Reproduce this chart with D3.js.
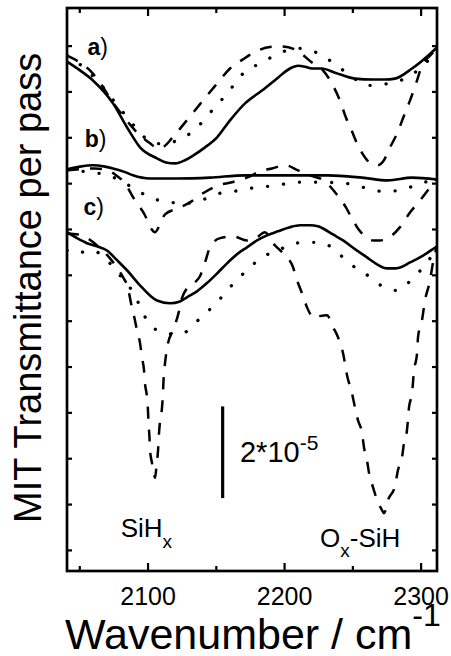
<!DOCTYPE html>
<html>
<head>
<meta charset="utf-8">
<script src="https://cdn.jsdelivr.net/npm/d3@7"></script>
<style>
  html, body { margin: 0; padding: 0; background: #fff; }
  svg { display: block; font-family: "Liberation Sans", Arial, Helvetica, sans-serif; }
</style>
</head>
<body>
<svg id="chart" width="451" height="656"></svg>
<script>
// x in cm^-1, y in units of 1e-5 (curves offset a / b / c)
const xTicksMajor = [2100, 2200, 2300];
const xTicksMinor = [2050, 2150, 2250];
const yTicks = [0, 1, 2, 3, 4, 5, 6, 7, 8, 9, 10, 11];

const aSolid = [[2041.0,10.65],[2050.5,10.46],[2060.0,10.24],[2074.7,9.74],[2084.9,9.22],[2094.5,8.78],[2106.9,8.54],[2113.5,8.45],[2120.1,8.43],[2127.4,8.50],[2133.3,8.60],[2142.1,8.78],[2150.9,9.00],[2160.4,9.37],[2171.4,9.74],[2183.8,10.02],[2195.5,10.30],[2204.3,10.50],[2210.2,10.56],[2215.3,10.54],[2220.4,10.50],[2227.7,10.50],[2237.3,10.41],[2251.9,10.28],[2264.4,10.26],[2273.9,10.26],[2281.2,10.28],[2293.7,10.50],[2305.4,10.78],[2312.0,10.96]];
const aDashed = [[2041.0,10.78],[2050.5,10.63],[2057.8,10.46],[2065.2,10.19],[2073.2,9.82],[2083.5,9.41],[2094.5,9.04],[2101.8,8.87],[2107.7,8.76],[2112.1,8.80],[2117.9,8.98],[2127.4,9.32],[2134.8,9.59],[2143.5,9.91],[2150.9,10.17],[2160.4,10.50],[2169.9,10.70],[2179.4,10.87],[2189.7,10.97],[2199.2,10.98],[2209.5,10.89],[2220.4,10.63],[2228.5,10.46],[2235.8,10.13],[2240.9,9.80],[2245.3,9.43],[2249.7,9.13],[2254.1,8.82],[2259.3,8.56],[2264.4,8.41],[2268.8,8.39],[2272.5,8.47],[2277.6,8.78],[2282.7,9.08],[2287.8,9.47],[2292.2,9.80],[2296.6,10.17],[2301.0,10.56],[2306.9,10.78],[2312.0,10.93]];
const aDotted = [[2041.0,10.78],[2054.2,10.50],[2065.2,10.17],[2076.2,9.76],[2086.4,9.39],[2098.1,8.99],[2109.1,8.86],[2123.8,8.95],[2137.0,9.24],[2148.0,9.61],[2159.0,9.98],[2169.9,10.39],[2183.8,10.63],[2196.3,10.83],[2209.5,10.94],[2223.4,10.85],[2235.8,10.63],[2248.3,10.35],[2261.5,10.13],[2275.4,10.17],[2288.6,10.28],[2299.5,10.50],[2306.9,10.72],[2312.0,10.89]];

const bSolid = [[2041.0,8.30],[2050.5,8.36],[2060.0,8.39],[2068.8,8.36],[2074.7,8.32],[2083.5,8.24],[2089.3,8.17],[2101.8,8.10],[2120.8,8.10],[2145.7,8.12],[2171.4,8.17],[2195.5,8.17],[2232.2,8.17],[2257.1,8.12],[2276.1,8.06],[2293.7,8.12],[2312.0,8.08]];
const bDashed = [[2041.0,8.28],[2061.5,8.32],[2071.0,8.28],[2076.2,8.19],[2083.5,7.99],[2090.8,7.62],[2098.1,7.30],[2102.5,7.01],[2105.5,6.93],[2109.1,7.10],[2112.8,7.32],[2122.3,7.45],[2131.1,7.58],[2140.6,7.78],[2151.6,7.95],[2161.9,8.02],[2175.0,8.15],[2182.4,8.26],[2191.2,8.32],[2200.7,8.39],[2210.2,8.28],[2219.0,8.17],[2230.0,8.04],[2237.3,7.80],[2245.3,7.47],[2249.7,7.23],[2254.1,7.01],[2259.3,6.84],[2265.1,6.75],[2270.2,6.75],[2276.1,6.80],[2284.9,7.04],[2292.2,7.36],[2299.5,7.62],[2306.9,7.91],[2312.0,8.10]];
const bDotted = [[2041.0,8.28],[2057.8,8.24],[2071.0,8.17],[2079.8,8.06],[2088.6,7.91],[2101.8,7.69],[2116.4,7.58],[2128.9,7.56],[2140.6,7.64],[2153.1,7.78],[2167.7,7.84],[2180.2,7.91],[2194.8,7.95],[2208.0,8.02],[2226.3,8.02],[2246.1,7.99],[2257.8,7.91],[2271.7,7.82],[2284.9,7.84],[2297.4,7.97],[2305.4,8.04],[2312.0,8.10]];

const cSolid = [[2041.0,6.93],[2048.3,6.80],[2055.6,6.69],[2063.0,6.62],[2070.3,6.53],[2077.6,6.32],[2084.9,6.10],[2094.5,5.77],[2101.8,5.55],[2106.9,5.44],[2116.4,5.38],[2123.8,5.42],[2128.9,5.51],[2136.2,5.64],[2143.5,5.82],[2150.9,6.03],[2158.2,6.25],[2165.5,6.45],[2172.8,6.60],[2180.2,6.75],[2187.5,6.86],[2195.5,6.95],[2204.3,7.04],[2211.7,7.08],[2219.0,7.08],[2224.8,7.06],[2228.5,7.01],[2235.8,6.88],[2243.2,6.75],[2251.9,6.56],[2260.7,6.38],[2268.1,6.23],[2275.4,6.14],[2281.2,6.14],[2284.9,6.16],[2292.2,6.27],[2299.5,6.38],[2305.4,6.49],[2312.0,6.62]];
const cDashed = [[2041.0,6.90],[2049.1,6.88],[2054.9,6.82],[2059.3,6.73],[2065.2,6.58],[2072.5,6.36],[2077.6,6.16],[2082.0,5.95],[2085.7,5.71],[2087.9,5.38],[2090.1,5.10],[2092.3,4.79],[2094.5,4.51],[2095.9,4.20],[2097.4,3.92],[2098.1,3.64],[2099.6,3.33],[2100.3,3.05],[2100.7,2.76],[2101.4,2.46],[2101.8,2.18],[2103.3,1.89],[2104.7,1.65],[2105.5,1.57],[2106.6,1.85],[2107.7,2.18],[2108.4,2.55],[2109.1,2.79],[2110.6,3.11],[2111.3,3.42],[2111.7,3.70],[2112.4,3.96],[2113.5,4.25],[2115.0,4.51],[2118.6,4.79],[2122.3,5.12],[2125.2,5.49],[2128.9,5.71],[2134.8,5.84],[2138.4,5.97],[2142.1,6.27],[2145.7,6.60],[2153.1,6.80],[2162.6,6.84],[2172.8,6.75],[2179.4,6.80],[2186.0,6.93],[2191.9,6.69],[2199.2,6.47],[2206.5,6.17],[2209.5,5.88],[2213.1,5.60],[2216.8,5.29],[2219.7,5.12],[2222.6,5.05],[2226.3,5.10],[2231.4,5.12],[2235.8,4.86],[2239.5,4.64],[2243.2,4.29],[2246.1,3.81],[2249.7,3.42],[2251.9,3.11],[2254.1,2.83],[2257.1,2.55],[2258.5,2.24],[2260.7,1.96],[2262.2,1.68],[2265.1,1.37],[2268.1,1.09],[2271.7,0.87],[2273.2,0.80],[2276.1,1.09],[2281.2,1.39],[2283.4,1.74],[2286.4,2.02],[2287.8,2.33],[2290.0,2.61],[2291.5,3.11],[2293.7,3.42],[2295.2,3.92],[2297.4,4.29],[2298.1,4.64],[2301.0,5.01],[2303.2,5.44],[2306.9,5.88],[2309.1,6.27],[2312.0,6.62]];
const cDotted = [[2041.0,6.53],[2046.9,6.47],[2059.3,6.53],[2072.5,6.25],[2081.3,5.93],[2090.8,5.55],[2096.7,5.16],[2106.9,4.79],[2116.4,4.71],[2127.4,4.75],[2138.4,5.05],[2150.9,5.40],[2160.4,5.73],[2172.8,6.10],[2183.8,6.38],[2195.5,6.53],[2208.0,6.69],[2222.6,6.71],[2235.1,6.60],[2246.8,6.27],[2259.3,6.03],[2270.9,5.77],[2282.7,5.66],[2294.4,5.93],[2304.7,6.27],[2312.0,6.58]];

// scale bar: 2*10^-5 tall
const scaleBarX = 2155;
const scaleBar = [1.13, 3.13];

const plot = { left: 67, right: 437, top: 8, bottom: 571 };

const svg = d3.select("#chart");

const x = d3.scaleLinear().domain([2041, 2312]).range([plot.left, plot.right]);
const y = d3.scaleLinear().domain([-0.46, 11.82]).range([plot.bottom, plot.top]);

svg.append("defs").append("clipPath").attr("id", "clip")
    .append("rect")
    .attr("x", plot.left).attr("y", plot.top)
    .attr("width", plot.right - plot.left).attr("height", plot.bottom - plot.top);

const line = d3.line()
    .x(d => x(d[0]))
    .y(d => y(d[1]))
    .curve(d3.curveMonotoneX);

const styles = {
    solid: { width: 2.6, dash: null, cap: "round" },
    dashed: { width: 2.5, dash: "12 11", cap: "butt" },
    dotted: { width: 3.3, dash: "0.1 16", cap: "round" }
};

const series = [
    { data: aSolid, style: "solid" }, { data: aDashed, style: "dashed" }, { data: aDotted, style: "dotted" },
    { data: bSolid, style: "solid" }, { data: bDashed, style: "dashed" }, { data: bDotted, style: "dotted" },
    { data: cSolid, style: "solid" }, { data: cDashed, style: "dashed" }, { data: cDotted, style: "dotted" }
];

const curves = svg.append("g").attr("clip-path", "url(#clip)");
curves.selectAll("path")
    .data(series)
    .join("path")
    .attr("d", d => line(d.data))
    .attr("fill", "none")
    .attr("stroke", "#000")
    .attr("stroke-width", d => styles[d.style].width)
    .attr("stroke-dasharray", d => styles[d.style].dash)
    .attr("stroke-linecap", d => styles[d.style].cap)
    .attr("stroke-linejoin", "round");

// axes (ticks inward on all four sides)
function styleAxis(g) {
    g.select(".domain").remove();
    g.selectAll(".tick line").attr("stroke", "#000").attr("stroke-width", 2.2);
}

svg.append("g")
    .attr("transform", `translate(0,${plot.bottom})`)
    .call(d3.axisBottom(x).tickValues(xTicksMajor).tickSize(-8).tickPadding(16).tickFormat(d3.format("d")))
    .call(styleAxis)
    .call(g => g.selectAll("text").attr("font-size", 25).attr("fill", "#000").attr("font-family", null));

svg.append("g")
    .attr("transform", `translate(0,${plot.bottom})`)
    .call(d3.axisBottom(x).tickValues(xTicksMinor).tickSize(-5).tickFormat(""))
    .call(styleAxis);

svg.append("g")
    .attr("transform", `translate(0,${plot.top})`)
    .call(d3.axisTop(x).tickValues(xTicksMajor).tickSize(-8).tickFormat(""))
    .call(styleAxis);

svg.append("g")
    .attr("transform", `translate(0,${plot.top})`)
    .call(d3.axisTop(x).tickValues(xTicksMinor).tickSize(-5).tickFormat(""))
    .call(styleAxis);

svg.append("g")
    .attr("transform", `translate(${plot.left},0)`)
    .call(d3.axisLeft(y).tickValues(yTicks).tickSize(-5).tickFormat(""))
    .call(styleAxis);

svg.append("g")
    .attr("transform", `translate(${plot.right},0)`)
    .call(d3.axisRight(y).tickValues(yTicks).tickSize(-5).tickFormat(""))
    .call(styleAxis);

// frame
svg.append("rect")
    .attr("x", plot.left).attr("y", plot.top)
    .attr("width", plot.right - plot.left).attr("height", plot.bottom - plot.top)
    .attr("fill", "none")
    .attr("stroke", "#000")
    .attr("stroke-width", 2.7);

// scale bar
svg.append("line")
    .attr("x1", x(scaleBarX)).attr("x2", x(scaleBarX))
    .attr("y1", y(scaleBar[0])).attr("y2", y(scaleBar[1]))
    .attr("stroke", "#000")
    .attr("stroke-width", 3.2);

const bar = svg.append("text")
    .attr("x", x(2167.7)).attr("y", y(1.92))
    .attr("font-size", 29);
bar.append("tspan").text("2*10");
bar.append("tspan").attr("font-size", 21).attr("dy", -12).text("-5");

// panel labels
[["a", 2056, 10.80], ["b", 2054, 8.78], ["c", 2053, 7.30]].forEach(([t, lx, ly]) => {
    const lab = svg.append("text").attr("x", x(lx)).attr("y", y(ly)).attr("font-size", 23);
    lab.append("tspan").attr("font-weight", "bold").text(t);
    lab.append("tspan").text(")");
});

// band labels
const sih = svg.append("text").attr("x", x(2080.3)).attr("y", y(0.29)).attr("font-size", 26);
sih.append("tspan").text("SiH");
sih.append("tspan").attr("font-size", 19).attr("dy", 11).text("x");

const osih = svg.append("text").attr("x", x(2226.3)).attr("y", y(0.06)).attr("font-size", 26);
osih.append("tspan").text("O");
osih.append("tspan").attr("font-size", 19).attr("dy", 10).text("x");
osih.append("tspan").attr("dy", -10).text("-SiH");

// axis titles
const xt = svg.append("text").attr("x", 65).attr("y", 649).attr("font-size", 43);
xt.append("tspan").text("Wavenumber / cm");
xt.append("tspan").attr("font-size", 32).attr("dy", -23).text("-1");

svg.append("text")
    .attr("transform", "translate(41,523) rotate(-90)")
    .attr("font-size", 38)
    .text("MIT Transmittance per pass");
</script>
</body>
</html>
